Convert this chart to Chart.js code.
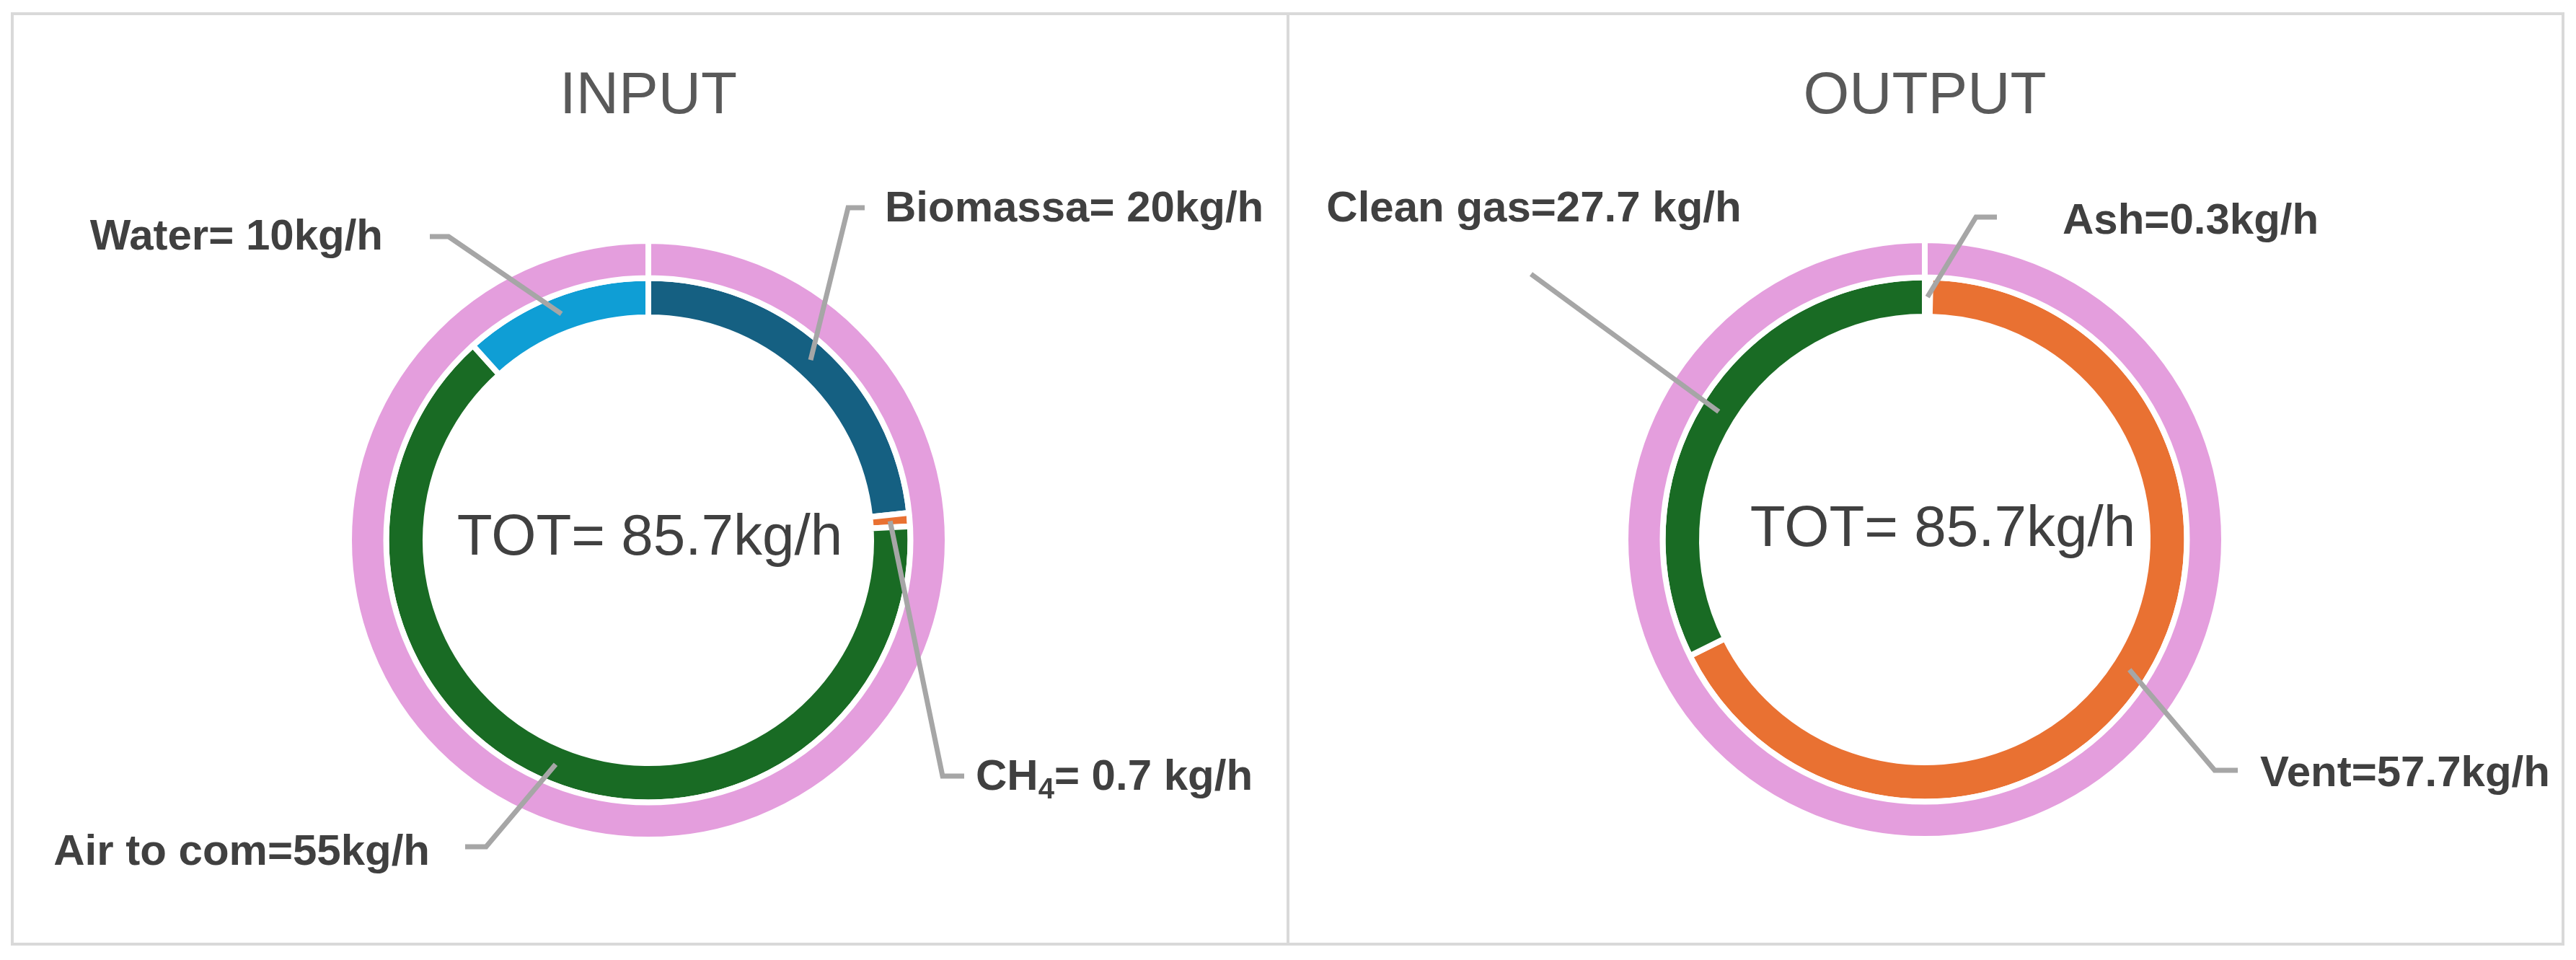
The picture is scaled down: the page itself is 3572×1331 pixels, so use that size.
<!DOCTYPE html>
<html lang="en">
  <head>
    <meta charset="UTF-8" />
    <script src="https://cdn.jsdelivr.net/npm/chart.js@4.4.1/dist/chart.umd.min.js"></script>
    <title>Input / Output mass balance</title>
    <style>
      body {
        margin: 0;
        padding: 0;
        background: #fff;
        width: 3572px;
        height: 1331px;
        position: relative;
        overflow: hidden;
      }
      .frame {
        position: absolute;
        left: 15px;
        top: 17px;
        width: 3541px;
        height: 1294px;
        border: 4px solid #d9d9d9;
        box-sizing: border-box;
      }
      .divider {
        position: absolute;
        left: 1784px;
        top: 17px;
        width: 4px;
        height: 1294px;
        background: #d9d9d9;
      }
      .box {
        position: absolute;
        top: 21px;
        height: 1286px;
      }
      #inBox { left: 19px; width: 1765px; }
      #outBox { left: 1788px; width: 1764px; }
    </style>
  </head>
  <body>
    <div class="frame"></div>
    <div class="divider"></div>
    <div class="box" id="inBox"><canvas id="inChart"></canvas></div>
    <div class="box" id="outBox"><canvas id="outChart"></canvas></div>
    <script>
      // data (kg/h)
      const inputLabels = ['Biomassa= 20kg/h', 'CH<sub>4</sub>= 0.7 kg/h', 'Air to com=55kg/h', 'Water= 10kg/h']
      const inputValues = [20, 0.7, 55, 10]
      const inputTotal = [85.7]
      const outputLabels = ['Ash=0.3kg/h', 'Vent=57.7kg/h', 'Clean gas=27.7 kg/h']
      const outputValues = [0.3, 57.7, 27.7]
      const outputTotal = [85.7]

      const inputColors = ['#156082', '#E97132', '#196B24', '#0F9ED5']
      const outputColors = ['#156082', '#E97132', '#196B24']
      const ringColor = '#E49EDD'

      // label placement relative to the donut centre
      const inputCallouts = [
        { x: 328, y: -442, align: 'left', line: [[300, -461], [277, -461]] },
        { x: 454, y: 346, align: 'left', line: [[438, 327], [408, 327]] },
        { x: -303, y: 450, align: 'right', line: [[-254, 425], [-225, 425]] },
        { x: -368, y: -403, align: 'right', line: [[-303, -421], [-277, -421]] },
      ]
      const outputCallouts = [
        { x: 191, y: -424, align: 'left', line: [[100, -447], [71, -447]] },
        { x: 465, y: 342, align: 'left', line: [[434, 320], [402, 320]] },
        { x: -542, y: -441, align: 'center', line: [[-546, -368]] },
      ]

      const LABEL_FONT = 'bold 60px "Liberation Sans", Arial, sans-serif'
      const SUB_FONT = 'bold 40px "Liberation Sans", Arial, sans-serif'

      // split "CH<sub>4</sub>= ..." into plain / subscript parts
      const parts = (txt) => {
        const out = []
        txt.split(/(<sub>.*?<\/sub>)/).forEach((p) => {
          if (!p) return
          const m = p.match(/^<sub>(.*)<\/sub>$/)
          out.push(m ? { t: m[1], sub: true } : { t: p, sub: false })
        })
        return out
      }

      const drawRich = (ctx, txt, x, y, align) => {
        const ps = parts(txt)
        let w = 0
        ps.forEach((p) => {
          ctx.font = p.sub ? SUB_FONT : LABEL_FONT
          p.w = ctx.measureText(p.t).width
          w += p.w
        })
        let sx = align === 'left' ? x : align === 'right' ? x - w : x - w / 2
        ctx.textAlign = 'left'
        ps.forEach((p) => {
          ctx.font = p.sub ? SUB_FONT : LABEL_FONT
          ctx.fillText(p.t, sx, p.sub ? y + 12 : y)
          sx += p.w
        })
      }

      const calloutPlugin = {
        id: 'callouts',
        afterDraw(chart, args, opts) {
          const { ctx, chartArea } = chart
          const cx = (chartArea.left + chartArea.right) / 2
          const cy = (chartArea.top + chartArea.bottom) / 2
          ctx.save()
          ctx.textBaseline = 'alphabetic'

          ctx.fillStyle = '#595959'
          ctx.textAlign = 'center'
          ctx.font = '82px "Liberation Sans", Arial, sans-serif'
          ctx.fillText(opts.title, cx, 136)

          ctx.fillStyle = '#404040'
          ctx.font = '80px "Liberation Sans", Arial, sans-serif'
          ctx.fillText(opts.centerText, cx + opts.centerDx, cy + opts.centerDy)

          const meta = chart.getDatasetMeta(1)
          opts.items.forEach((it, i) => {
            const p = meta.data[i].getCenterPoint()
            ctx.strokeStyle = '#A6A6A6'
            ctx.lineWidth = 7
            ctx.beginPath()
            ctx.moveTo(cx + it.line[0][0], cy + it.line[0][1])
            it.line.slice(1).forEach((q) => ctx.lineTo(cx + q[0], cy + q[1]))
            ctx.lineTo(p.x, p.y)
            ctx.stroke()

            ctx.fillStyle = '#404040'
            drawRich(ctx, chart.data.labels[i], cx + it.x, cy + it.y, it.align)
          })
          ctx.restore()
        },
      }

      const makeChart = (id, labels, values, total, colors, padding, opts) =>
        new Chart(document.getElementById(id), {
          type: 'doughnut',
          data: {
            labels: labels,
            datasets: [
              {
                data: total,
                backgroundColor: [ringColor],
                borderColor: '#ffffff',
                borderWidth: 8,
                weight: 51.5,
              },
              {
                data: values,
                backgroundColor: colors,
                borderColor: '#ffffff',
                borderWidth: 8,
                weight: 54.5,
              },
            ],
          },
          options: {
            responsive: true,
            maintainAspectRatio: false,
            animation: false,
            radius: 415,
            cutout: '74.46%',
            layout: { padding: padding },
            plugins: {
              legend: { display: false },
              tooltip: { enabled: false },
              callouts: opts,
            },
          },
          plugins: [calloutPlugin],
        })

      makeChart('inChart', inputLabels, inputValues, inputTotal, inputColors,
        { left: 460, right: 465, top: 300, bottom: 130 },
        { title: 'INPUT', centerText: 'TOT= ' + inputTotal[0] + 'kg/h', centerDx: 2, centerDy: 20, items: inputCallouts })

      makeChart('outChart', outputLabels, outputValues, outputTotal, outputColors,
        { left: 460, right: 462, top: 300, bottom: 132 },
        { title: 'OUTPUT', centerText: 'TOT= ' + outputTotal[0] + 'kg/h', centerDx: 25, centerDy: 9, items: outputCallouts })
    </script>
  </body>
</html>
